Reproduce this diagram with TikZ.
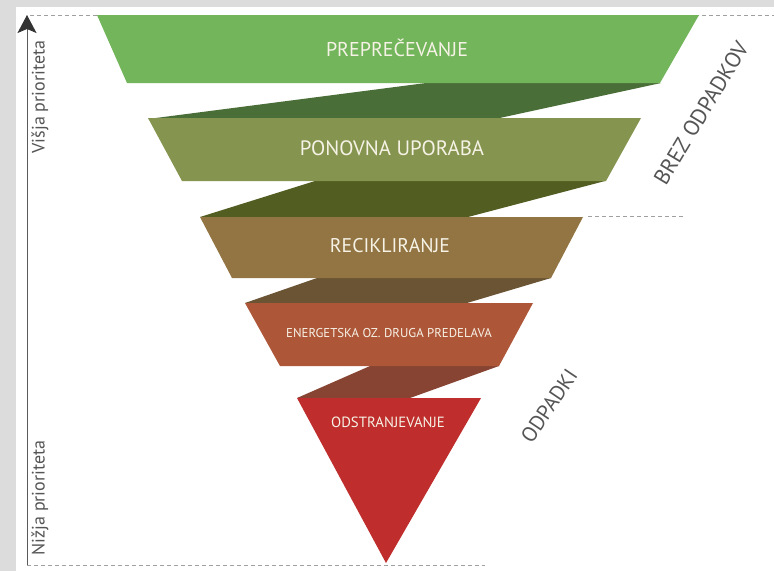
\documentclass[tikz,border=0pt]{standalone}
\usepackage{fontspec}
\setmainfont{PT Sans}
\usetikzlibrary{arrows.meta}
\definecolor{framegray}{HTML}{DCDCDC}
\definecolor{axisgray}{HTML}{5A5A5A}
\definecolor{dashgray}{HTML}{A0A0A0}
\definecolor{labelgray}{HTML}{555555}
\definecolor{tipgray}{HTML}{333333}
\definecolor{lone}{HTML}{72B55B}
\definecolor{fone}{HTML}{4A6E37}
\definecolor{ltwo}{HTML}{85954F}
\definecolor{ftwo}{HTML}{525D21}
\definecolor{lthree}{HTML}{927543}
\definecolor{fthree}{HTML}{6A5433}
\definecolor{lfour}{HTML}{AE5638}
\definecolor{ffour}{HTML}{874433}
\definecolor{lfive}{HTML}{BF2E2C}
\definecolor{txtwhite}{HTML}{F6F2E6}
\tikzset{
  layertext/.style={text=txtwhite, inner sep=0pt, font=\fontsize{#1}{#1}\selectfont},
  sidetext/.style={text=labelgray, inner sep=0pt, font=\fontsize{#1}{#1}\selectfont},
  guide/.style={dashgray, dashed, line width=0.7pt, dash pattern=on 4pt off 3pt},
}
\begin{document}
\begin{tikzpicture}[x=1pt,y=-1pt]
\useasboundingbox (0,0) rectangle (774,571);
\fill[framegray] (0,0) rectangle (774,571);
\fill[white] (16,7) rectangle (774,571);

% guide lines
\coordinate (topL) at (30,15);
\coordinate (topR) at (774,15);
\coordinate (midL) at (588,216);
\coordinate (midR) at (683,216);
\coordinate (botL) at (27,565);
\coordinate (botR) at (485,565);
\draw[guide] (topL) -- (topR);
\draw[guide] (midL) -- (midR);
\draw[guide] (botL) -- (botR);

% axis
\coordinate (axB) at (27,565);
\coordinate (axT) at (27,15);
\draw[axisgray, line width=0.9pt, -{Stealth[length=18pt,width=19pt,inset=4pt,color=tipgray]}] (axB) -- (axT);

% folds
\fill[fone] (426,83) -- (661,83) -- (495,119) -- (148,119) -- cycle;
\fill[ftwo] (315,181) -- (605,181) -- (468,217) -- (200,217) -- cycle;
\fill[fthree] (317,278) -- (551,278) -- (467,303) -- (245,303) -- cycle;
\fill[ffour] (370,366) -- (499,366) -- (410,398) -- (297,398) -- cycle;

% layers
\fill[lone] (97,15) -- (699,15) -- (660,83) -- (127,83) -- cycle;
\fill[ltwo] (148,118) -- (641,118) -- (606,181) -- (182,181) -- cycle;
\fill[lthree] (200,217) -- (583,217) -- (551,278) -- (232,278) -- cycle;
\fill[lfour] (245,303) -- (533,303) -- (499,366) -- (280,366) -- cycle;
\fill[lfive] (297,398) -- (481,398) -- (386,563) -- cycle;

% layer texts
\node[layertext=20] (t1) at (397,48) {PREPREČEVANJE};
\node[layertext=20.8] (t2) at (392,148) {PONOVNA UPORABA};
\node[layertext=19.8] (t3) at (390,246) {RECIKLIRANJE};
\node[layertext=12.8] (t4) at (389,333) {ENERGETSKA OZ. DRUGA PREDELAVA};
\node[layertext=14.8] (t5) at (388,422) {ODSTRANJEVANJE};

% side texts
\node[sidetext=18, rotate=90] (hi) at (40,97) {Višja prioriteta};
\node[sidetext=18, rotate=90] (lo) at (40,498) {Nižja prioriteta};
\node[sidetext=22, rotate=59] (brez) at (701,113) {BREZ ODPADKOV};
\node[sidetext=21, rotate=56] (odp) at (549,406) {ODPADKI};
\end{tikzpicture}
\end{document}
